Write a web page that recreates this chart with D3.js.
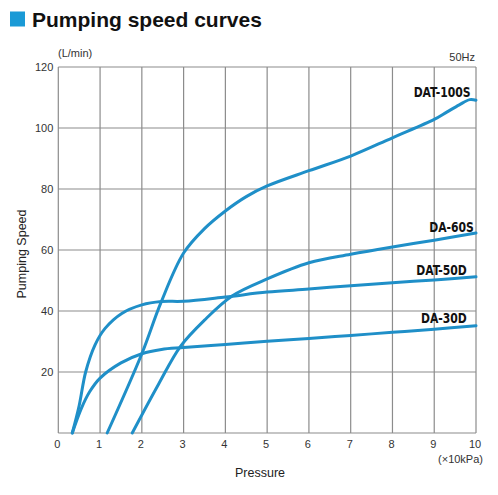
<!DOCTYPE html>
<html>
<head>
<meta charset="utf-8">
<script src="https://cdn.jsdelivr.net/npm/d3@7"></script>
<style>
  body { margin: 0; background: #fff; }
  svg { display: block; font-family: "Liberation Sans", Arial, sans-serif; }
  .grid line { stroke: #8c8c8c; stroke-width: 1.2; }
  .tick-label { font-size: 11px; fill: #333; }
  .curve { fill: none; stroke: #1f8fc8; stroke-width: 3; stroke-linecap: round; }
  .curve-label { font-family: "Liberation Sans Narrow", "DejaVu Sans Condensed", sans-serif; font-weight: bold; font-size: 14px; fill: #111; }
</style>
</head>
<body>
<svg id="chart" width="498" height="495"></svg>
<script>
// pressure ticks (x10kPa) and speed ticks (L/min)
const xTicks = [0, 1, 2, 3, 4, 5, 6, 7, 8, 9, 10];
const yTicks = [20, 40, 60, 80, 100, 120];

// curves: [pressure, speed]
const dat100s = [[1.17, 0], [2, 26], [2.45, 42.5], [3, 59], [3.5, 67], [4, 72.8], [4.5, 77.5], [5, 81], [6, 86], [7, 90.8], [8, 96.8], [9, 102.8], [9.3, 105.2], [9.6, 107.6], [9.85, 109.3], [10, 109.1]];
const da60s = [[1.77, 0], [2.4, 16], [2.93, 28.5], [3.5, 37], [4.17, 45], [5, 50.5], [6, 55.8], [7, 58.6], [8, 61], [9, 63.2], [10, 65.6]];
const dat50d = [[0.335, 0], [0.5, 9], [0.655, 20], [0.88, 28.9], [1.12, 34.3], [1.52, 39.2], [2, 42], [2.47, 43.1], [3, 43.2], [4, 44.6], [5, 46.2], [6, 47.2], [7, 48.3], [8, 49.3], [9, 50.2], [10, 51.2]];
const da30d = [[0.335, 0], [0.55, 8], [0.75, 13.5], [1, 18], [1.5, 23], [2, 26], [2.47, 27.4], [3, 28], [4, 29], [5, 30.1], [6, 31], [7, 32], [8, 33], [9, 34], [10, 35.2]];

const seriesNames = ["DAT-100S", "DA-60S", "DAT-50D", "DA-30D"];
const seriesData = [dat100s, da60s, dat50d, da30d];
// label anchor points (right edge / baseline, in data units)
const labelPos = [[9.87, 110.2], [9.95, 65.9], [9.78, 51.8], [9.78, 36]];

const svg = d3.select("#chart");
const margin = { left: 58.3, right: 22, top: 67, bottom: 62 };
const width = +svg.attr("width");
const height = +svg.attr("height");

const x = d3.scaleLinear().domain([0, 10]).range([margin.left, width - margin.right]);
const y = d3.scaleLinear().domain([0, 120]).range([height - margin.bottom, margin.top]);

// title
svg.append("rect").attr("x", 10).attr("y", 11.5).attr("width", 15).attr("height", 15).attr("fill", "#1a9ad6");
svg.append("text")
  .attr("x", 32).attr("y", 26.5)
  .attr("font-size", 21).attr("font-weight", "bold").attr("fill", "#111")
  .text("Pumping speed curves");

// grid
const grid = svg.append("g").attr("class", "grid");
grid.selectAll("line.v")
  .data(xTicks)
  .enter()
  .append("line")
  .attr("x1", (d) => x(d)).attr("x2", (d) => x(d))
  .attr("y1", y(0)).attr("y2", y(120));
grid.selectAll("line.h")
  .data([0].concat(yTicks))
  .enter()
  .append("line")
  .attr("x1", x(0)).attr("x2", x(10))
  .attr("y1", (d) => y(d)).attr("y2", (d) => y(d));

// tick labels
svg.append("g")
  .selectAll("text")
  .data(yTicks)
  .enter()
  .append("text")
  .attr("class", "tick-label")
  .attr("x", x(0) - 5)
  .attr("y", (d) => y(d))
  .attr("dy", "0.35em")
  .attr("text-anchor", "end")
  .text((d) => d);

svg.append("g")
  .selectAll("text")
  .data(xTicks)
  .enter()
  .append("text")
  .attr("class", "tick-label")
  .attr("x", (d) => x(d) - 1)
  .attr("y", y(0) + 15)
  .attr("text-anchor", "middle")
  .text((d) => d);

// axis titles and units
svg.append("text").attr("class", "tick-label").attr("x", 58).attr("y", 57).text("(L/min)");
svg.append("text").attr("class", "tick-label").attr("x", 475).attr("y", 61).attr("text-anchor", "end").text("50Hz");
svg.append("text").attr("class", "tick-label").attr("x", 483).attr("y", 463).attr("text-anchor", "end").text("(×10kPa)");
svg.append("text")
  .attr("x", 260).attr("y", 477)
  .attr("font-size", 12.5).attr("fill", "#222")
  .attr("text-anchor", "middle")
  .text("Pressure");
svg.append("text")
  .attr("transform", "translate(26,254) rotate(-90)")
  .attr("font-size", 12.5).attr("fill", "#222")
  .attr("text-anchor", "middle")
  .text("Pumping Speed");

// curves
const line = d3.line()
  .x((d) => x(d[0]))
  .y((d) => y(d[1]))
  .curve(d3.curveCatmullRom.alpha(0.5));

svg.append("g")
  .selectAll("path")
  .data(seriesData)
  .enter()
  .append("path")
  .attr("class", "curve")
  .attr("d", line);

// condensed labels at the right end of each curve
svg.append("g")
  .selectAll("text")
  .data(seriesNames)
  .enter()
  .append("text")
  .attr("class", "curve-label")
  .attr("transform", (d, i) => `translate(${x(labelPos[i][0])},${y(labelPos[i][1])}) scale(0.86,1)`)
  .attr("text-anchor", "end")
  .text((d) => d);
</script>
</body>
</html>
